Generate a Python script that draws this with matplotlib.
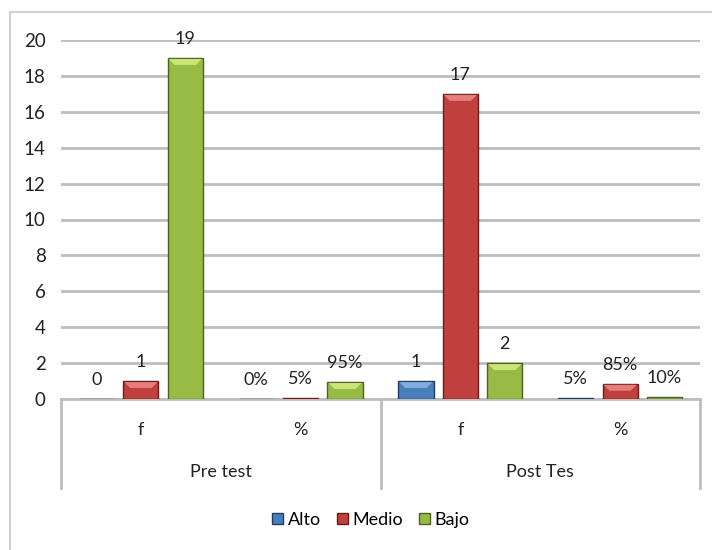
import matplotlib

matplotlib.use("Agg")
import matplotlib.pyplot as plt
import numpy as np
from matplotlib.patches import Patch, Polygon, Rectangle
from matplotlib.transforms import blended_transform_factory

plt.rcParams["font.family"] = ["Lato", "DejaVu Sans"]

# chart data
categories = ["f", "%", "f", "%"]
groups = ["Pre test", "Post Tes"]
series = ["Alto", "Medio", "Bajo"]
alto = [0, 0.00, 1, 0.05]
medio = [1, 0.05, 17, 0.85]
bajo = [19, 0.95, 2, 0.10]
yticks = [0, 2, 4, 6, 8, 10, 12, 14, 16, 18, 20]

colors = ["#4a7ebb", "#c0403d", "#97bb45"]
edges = ["#1f3d66", "#6b1a18", "#4a6320"]
lights = ["#8fb4e3", "#ec8a88", "#d4ec80"]

fig = plt.figure(figsize=(7.12, 5.5), dpi=100)
ax = fig.add_axes([61 / 712, 151 / 550, 639 / 712, 359 / 550])

# outer chart frame (cropped on the right and bottom in the original)
fig.patches.append(Rectangle((10 / 712, -0.1), 1.2, 538 / 550 + 0.1,
                             transform=fig.transFigure, fill=False,
                             edgecolor="#d0d0d0", linewidth=1.5))

x = np.arange(len(categories))
width = 0.22
step = 0.278
values = [alto, medio, bajo]

ax.set_xlim(-0.5, len(categories) - 0.5)
ax.set_ylim(0, 20)

for i, vals in enumerate(values):
    pos = x + (i - 1) * step
    bars = ax.bar(pos, vals, width, color=colors[i], edgecolor=edges[i],
                  linewidth=1.0, zorder=3)
    for b, v, cat in zip(bars, vals, categories):
        label = f"{v:g}" if cat == "f" else f"{v:.0%}"
        ax.annotate(label, (b.get_x() + b.get_width() / 2, v),
                    xytext=(0, 8), textcoords="offset points",
                    ha="center", va="bottom", fontsize=13, color="#222222")

ax.set_xlim(-0.5, len(categories) - 0.5)
ax.set_ylim(0, 20)

# light bevel on top of each bar, sized in pixels
for i, container in enumerate(ax.containers):
    for b in container:
        (x0, y0), (x1, y1) = ax.transData.transform(
            [(b.get_x(), 0), (b.get_x() + b.get_width(), b.get_height())])
        depth = min(7, (y1 - y0) / 2)
        if depth < 2:
            continue
        pts = [(x0 + 1, y1 - 1), (x1 - 1, y1 - 1),
               (x1 - depth, y1 - depth), (x0 + depth, y1 - depth)]
        ax.add_patch(Polygon(pts, closed=True, transform=None,
                             facecolor=lights[i], edgecolor="none",
                             zorder=4, alpha=0.85))

ax.set_yticks(yticks)
ax.tick_params(axis="y", length=0, labelsize=13.5, pad=11, colors="#222222")
ax.set_xticks([])
ax.yaxis.grid(True, color="#bdbdbd", linewidth=2)
ax.set_axisbelow(True)
for side in ("top", "right", "left"):
    ax.spines[side].set_visible(False)
ax.spines["bottom"].set_color("#bdbdbd")
ax.spines["bottom"].set_linewidth(2)
ax.spines["bottom"].set_zorder(2)

# two-level category axis
trans = blended_transform_factory(ax.transData, ax.transAxes)
for sep in (-0.5, 1.5, 3.5):
    ax.plot([sep, sep], [0, -0.248], transform=trans, clip_on=False,
            color="#bdbdbd", linewidth=2)
for xi, cat in zip(x, categories):
    ax.text(xi, -0.086, cat, transform=trans, ha="center", va="center",
            fontsize=13, color="#222222")
for gi, grp in enumerate(groups):
    ax.text(2 * gi + 0.5, -0.203, grp, transform=trans, ha="center",
            va="center", fontsize=13, color="#222222")

handles = [Patch(facecolor=c, edgecolor=e, label=s)
           for c, e, s in zip(colors, edges, series)]
fig.legend(handles=handles, loc="center", bbox_to_anchor=(371 / 712, 30 / 550),
           ncol=3, frameon=False, fontsize=13, handlelength=0.6,
           handleheight=0.6, handletextpad=0.25, columnspacing=0.9)

fig.savefig("out.png", dpi=100)
